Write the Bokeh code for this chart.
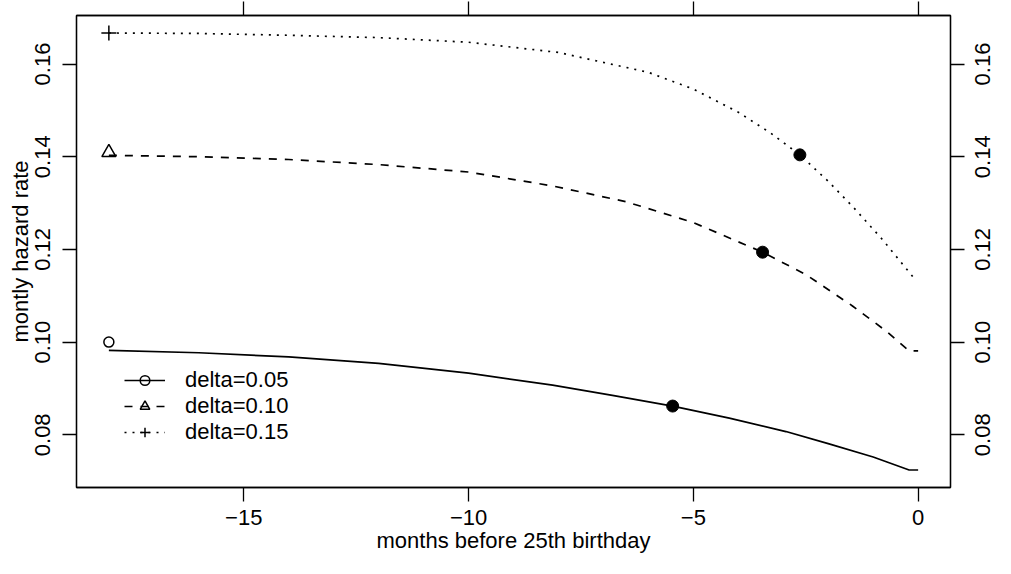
import math
from bokeh.plotting import figure
from bokeh.layouts import row
from bokeh.models import LinearAxis, FixedTicker, Range1d, Legend, LegendItem
from bokeh.core.properties import value
from bokeh.embed import file_html
from bokeh.resources import INLINE

# ---- data ----
x_005 = [-18, -16, -14, -12, -10, -8.13, -6.8, -5.46, -4.2, -2.94, -2, -1,
         -0.2, 0]
y_005 = [0.0982, 0.0977, 0.0968, 0.0954, 0.0933, 0.0907, 0.0885, 0.0862,
         0.0836, 0.0807, 0.0781, 0.0752, 0.0724, 0.0724]

x_010 = [-18, -16, -14, -12, -10, -8.13, -6.5, -5, -3.46, -2.5, -1.46, -0.7,
         -0.2, 0]
y_010 = [0.1403, 0.1400, 0.1394, 0.1383, 0.1367, 0.1337, 0.1303, 0.1258,
         0.1194, 0.1146, 0.1078, 0.1023, 0.0981, 0.0981]

x_015 = [-18, -16, -14, -12, -10, -8, -6, -5, -4, -3.28, -2.63, -2, -1.46,
         -0.8, -0.1, 0]
y_015 = [0.1667, 0.1666, 0.1662, 0.1657, 0.1647, 0.1625, 0.1582, 0.1546,
         0.1496, 0.1451, 0.1404, 0.1347, 0.1293, 0.1222, 0.1139, 0.1139]

start_x = [-18, -18, -18]
start_y = [0.1000, 0.1409, 0.1667]

mark_x = [-5.46, -3.46, -2.63]
mark_y = [0.0862, 0.1194, 0.1404]

labels = ["delta=0.05", "delta=0.10", "delta=0.15"]
x_ticks = [-15, -10, -5, 0]
x_tick_labels = ["\u221215", "\u221210", "\u22125", "0"]
y_ticks = [0.08, 0.10, 0.12, 0.14, 0.16]
y_tick_labels = ["0.08", "0.10", "0.12", "0.14", "0.16"]
x_title = "months before 25th birthday"
y_title = "montly hazard rate"

# axis limits like R's default 4% extension
all_y = y_005 + y_010 + y_015 + start_y
ylo, yhi = min(all_y), max(all_y)
ext = 0.04 * (yhi - ylo)
xlo, xhi = -18, 0
xext = 0.04 * (xhi - xlo)

FONT = "Liberation Sans"
FS = "22px"

H = 558
BL, BR, BT, BB = 76, 15, 15, 71
FW = 874
W = BL + FW + BR          # main figure
WR = 995 - W              # strip holding the right-hand tick labels

y_range = Range1d(ylo - ext, yhi + ext)
p = figure(width=W, height=H, output_backend="svg", toolbar_location=None,
           x_range=Range1d(xlo - xext, xhi + xext), y_range=y_range,
           x_axis_location=None, y_axis_location=None,
           min_border_left=BL, min_border_right=BR,
           min_border_top=BT, min_border_bottom=BB)
p.xgrid.visible = False
p.ygrid.visible = False
p.outline_line_color = "black"
p.outline_line_width = 1.3
p.background_fill_color = "white"
p.border_fill_color = "white"


def style_axis(ax, ticks, labs, standoff):
    ax.ticker = FixedTicker(ticks=ticks)
    ax.major_label_overrides = {t: l for t, l in zip(ticks, labs)}
    ax.major_tick_out = 14
    ax.major_tick_in = 0
    ax.minor_tick_out = 0
    ax.minor_tick_in = 0
    ax.major_tick_line_color = "black"
    ax.major_tick_line_width = 1.3
    ax.axis_line_color = "black"
    ax.axis_line_width = 1.3
    ax.major_label_text_font = FONT
    ax.major_label_text_font_size = FS
    ax.major_label_text_color = "black"
    ax.major_label_standoff = standoff
    ax.axis_label_text_font = FONT
    ax.axis_label_text_font_size = FS
    ax.axis_label_text_font_style = "normal"
    ax.axis_label_text_color = "black"


bottom = LinearAxis(axis_label=x_title)
style_axis(bottom, x_ticks, x_tick_labels, 8)
bottom.axis_label_standoff = 0
p.add_layout(bottom, "below")

top = LinearAxis()
style_axis(top, x_ticks, [""] * len(x_ticks), 0)
top.major_label_text_font_size = "0px"
p.add_layout(top, "above")

left = LinearAxis(axis_label=y_title)
style_axis(left, y_ticks, y_tick_labels, 12)
left.major_label_orientation = "vertical"
left.axis_label_standoff = 0
p.add_layout(left, "left")

right = LinearAxis()
style_axis(right, y_ticks, [""] * len(y_ticks), 0)
right.major_label_text_font_size = "0px"
p.add_layout(right, "right")

# curves
l1 = p.line(x_005, y_005, line_color="black", line_width=1.7)
l2 = p.line(x_010, y_010, line_color="black", line_width=1.7, line_dash="8 8")
l3 = p.line(x_015, y_015, line_color="black", line_width=1.7, line_dash="2 6")

# open start markers
m1 = p.scatter([start_x[0]], [start_y[0]], marker="circle", size=10,
               fill_color=None, line_color="black", line_width=1.5)
m2 = p.scatter([start_x[1]], [start_y[1]], marker="triangle", size=14,
               fill_color=None, line_color="black", line_width=1.5)
m3 = p.scatter([start_x[2]], [start_y[2]], marker="cross", size=15,
               line_color="black", line_width=1.5)

# filled points on curves
p.scatter(mark_x, mark_y, marker="circle", size=12,
          fill_color="black", line_color="black")

legend = Legend(items=[
    LegendItem(label=labels[0], renderers=[l1, m1]),
    LegendItem(label=labels[1], renderers=[l2, m2]),
    LegendItem(label=labels[2], renderers=[l3, m3]),
], location=(48, 42))
legend.border_line_color = None
legend.background_fill_color = None
legend.background_fill_alpha = 0
legend.padding = 0
legend.margin = 0
legend.spacing = 0
legend.glyph_width = 41
legend.glyph_height = 24
legend.label_height = 24
legend.label_standoff = 20
legend.label_text_font = FONT
legend.label_text_font_size = FS
legend.label_text_color = "black"
p.add_layout(legend, "center")

# right strip: tick labels of the right axis, reading upwards
pr = figure(width=WR, height=H, output_backend="svg", toolbar_location=None,
            x_range=Range1d(0, WR), y_range=y_range,
            x_axis_location=None, y_axis_location=None,
            min_border_left=0, min_border_right=0,
            min_border_top=BT, min_border_bottom=BB)
pr.xgrid.visible = False
pr.ygrid.visible = False
pr.outline_line_color = None
pr.background_fill_color = "white"
pr.border_fill_color = "white"
pr.text(x=[WR / 2 + 2] * len(y_ticks), y=y_ticks, text=y_tick_labels,
        angle=math.pi / 2, text_align="center", text_baseline="middle",
        text_font=value(FONT), text_font_size=value(FS), text_color="black")

layout = row(p, pr)
open("out.html", "w").write(file_html(layout, INLINE))
